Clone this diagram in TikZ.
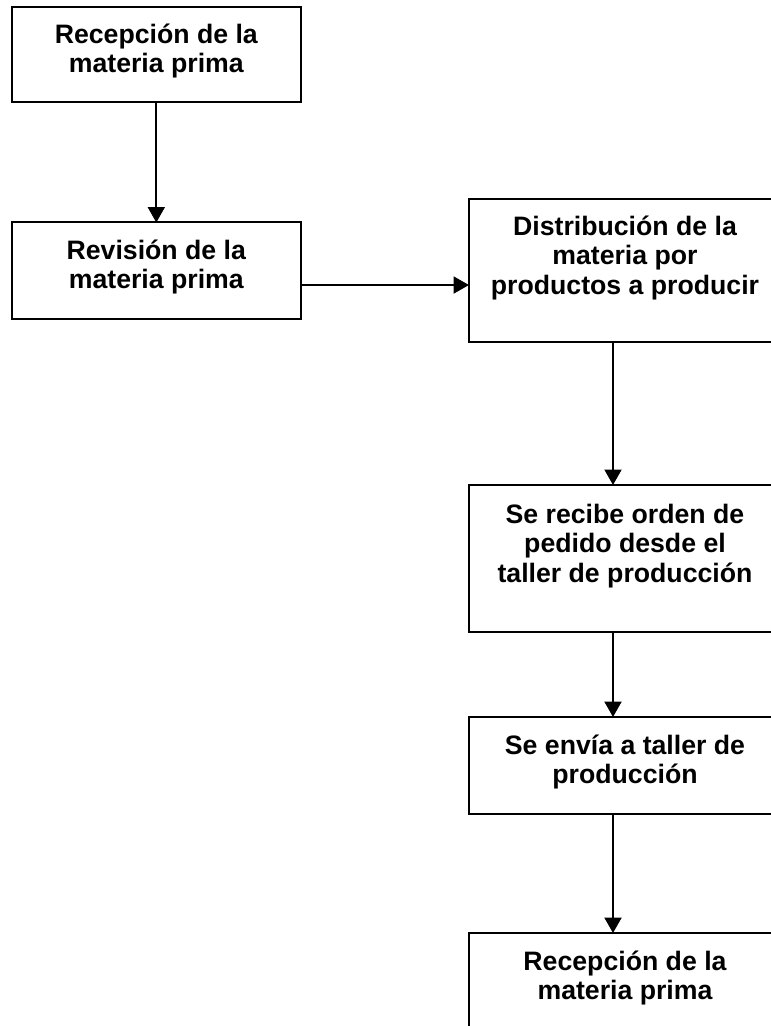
\documentclass[tikz,border=0pt]{standalone}
\usepackage{fontspec}
\setmainfont{Liberation Sans}
\usetikzlibrary{arrows.meta}

\begin{document}
\begin{tikzpicture}[x=0.75pt, y=-0.75pt,
  caja/.style={draw, line width=1.5pt, outer sep=0pt, align=center,
    font=\fontsize{20}{22.1}\selectfont\bfseries},
  dos/.style={caja, text height=37.1pt, text depth=10.1pt},
  tres/.style={caja, text height=59.2pt, text depth=23pt},
  izq/.style={minimum width=216.75pt},
  der/.style={minimum width=234pt},
  flecha/.style={line width=1.5pt, -{Triangle[length=11.6pt, width=12.75pt]}}]
  \useasboundingbox (0,0) rectangle (771,1026);
  \clip (0,0) rectangle (771,1026);

  \node[dos, izq, minimum height=71.6pt] (recepcion) at (156.3,54.75) {Recepción de la\\materia prima};
  \node[dos, izq, minimum height=72.4pt] (revision) at (156.3,270.75) {Revisión de la\\materia prima};
  \node[tres, der, minimum height=106.9pt] (distrib) at (625,270.25) {Distribución de la\\materia por\\productos a producir};
  \node[tres, der, minimum height=109.9pt] (pedido) at (625,558.25) {Se recibe orden de\\pedido desde el\\taller de producción};
  \node[dos, der, minimum height=72.75pt] (envio) at (625,765.5) {Se envía a taller de\\producción};
  \node[dos, der, minimum height=72.75pt] (recepfin) at (625,981.5) {Recepción de la\\materia prima};

  \draw[flecha] (recepcion) -- (revision);
  \coordinate (r) at ([yshift=-10.7pt]revision.east);
  \draw[flecha] (r) -- (r -| distrib.west);
  \draw[flecha] ([xshift=-9pt]distrib.south) -- ([xshift=-9pt]pedido.north);
  \draw[flecha] ([xshift=-9pt]pedido.south) -- ([xshift=-9pt]envio.north);
  \draw[flecha] ([xshift=-9pt]envio.south) -- ([xshift=-9pt]recepfin.north);
\end{tikzpicture}
\end{document}
